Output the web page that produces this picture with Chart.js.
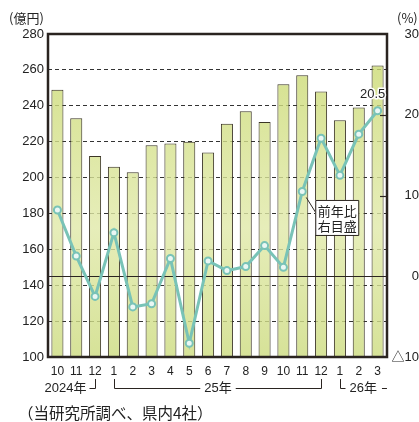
<!DOCTYPE html>
<html><head><meta charset="utf-8">
<script src="https://cdn.jsdelivr.net/npm/chart.js@4.4.1/dist/chart.umd.min.js"></script>
<style>html,body{margin:0;padding:0;background:#fff;}#wrap{position:relative;width:419px;height:422px;}</style>
</head><body><div id="wrap"><canvas id="c"></canvas></div>
<script>
const months = ['10','11','12','1','2','3','4','5','6','7','8','9','10','11','12','1','2','3'];
const sales = [249, 233, 212, 206, 203, 218, 219, 220, 214, 230, 237, 231, 252, 257, 248, 232, 239, 262.5];
const yoy = [8.2, 2.5, -2.5, 5.4, -3.8, -3.4, 2.2, -8.3, 1.9, 0.7, 1.2, 3.8, 1.1, 10.5, 17.1, 12.5, 17.6, 20.5];
const yearGroups = ['2024年', '25年', '26年'];
const groupStart = [0, 3, 15];
const groupEnd = [2, 14, 17];
const leftUnit = '(億円)';
const rightUnit = '(%)';
const noteText = '（当研究所調べ、県内4社）';
const calloutLines = ['前年比', '右目盛'];

const INK = '#2a2420';
const TEAL = '#79c3b7';
const FONT = "'Liberation Sans','Noto Sans CJK JP',sans-serif";
const NARROW = "'Liberation Sans Narrow','Liberation Sans','Noto Sans CJK JP',sans-serif";
const CJK = "'Noto Sans CJK JP',sans-serif";

function barFill(ctx) {
  const ch = ctx.chart; const a = ch.chartArea;
  if (!a) return 'rgba(206,220,130,0.8)';
  const g = ch.ctx.createLinearGradient(0, a.top, 0, a.bottom);
  g.addColorStop(0, 'rgba(199,215,105,0.8)');
  g.addColorStop(0.6, 'rgba(224,233,168,0.8)');
  g.addColorStop(1, 'rgba(204,219,126,0.8)');
  return g;
}

const extras = {
  id: 'extras',
  beforeDatasetDraw(chart, args) {
    if (args.index !== 1) return;
    const c = chart.ctx, a = chart.chartArea, y1 = chart.scales.y1;
    const y0 = Math.round(y1.getPixelForValue(0)) + 0.5;
    c.save(); c.strokeStyle = INK; c.lineWidth = 1.2;
    c.beginPath(); c.moveTo(a.left, y0); c.lineTo(a.right, y0); c.stroke();
    c.restore();
  },
  afterDatasetsDraw(chart) {
    const c = chart.ctx, a = chart.chartArea, x = chart.scales.x, y1 = chart.scales.y1;
    c.save();
    c.strokeStyle = INK; c.lineWidth = 2.5;
    c.strokeRect(a.left, a.top, a.right - a.left, a.bottom - a.top);
    c.lineWidth = 1.2;
    [10, 20].forEach(v => {
      const yy = Math.round(y1.getPixelForValue(v)) + 0.5;
      c.beginPath(); c.moveTo(a.right - 7, yy); c.lineTo(a.right, yy); c.stroke();
    });
    const meta = chart.getDatasetMeta(1);
    const last = meta.data[meta.data.length - 1];
    c.font = '13px ' + FONT; c.textAlign = 'center'; c.textBaseline = 'middle';
    c.lineWidth = 3; c.strokeStyle = '#fff'; c.lineJoin = 'round';
    const lbl = String(yoy[yoy.length - 1]);
    c.strokeText(lbl, last.x - 5, last.y - 16);
    c.fillStyle = '#222'; c.fillText(lbl, last.x - 5, last.y - 16);
    const p = meta.data[13];
    const bx = p.x + 13, by = p.y + 8.5, bw = 43, bh = 35;
    c.strokeStyle = INK; c.lineWidth = 1;
    c.beginPath(); c.moveTo(p.x + 4, p.y + 6); c.lineTo(bx + 1, p.y + 22); c.stroke();
    c.fillStyle = '#fff'; c.fillRect(bx, by, bw, bh);
    c.strokeRect(bx + 0.5, by + 0.5, bw, bh);
    c.fillStyle = '#222'; c.font = '13px ' + CJK;
    c.fillText(calloutLines[0], bx + bw / 2 + 0.5, by + 11.5);
    c.fillText(calloutLines[1], bx + bw / 2 + 0.5, by + 26.5);
    c.textAlign = 'left'; c.font = '13px ' + CJK; c.fillStyle = '#222';
    c.fillText(leftUnit, 9, 18);
    c.fillText(rightUnit, 397, 18);
    const gy = 388.5, gTop = 379;
    c.strokeStyle = INK; c.lineWidth = 1; c.font = '13px ' + FONT; c.fillStyle = '#222';
    let xe = Math.round(x.getPixelForValue(groupEnd[0])) + 0.5;
    c.beginPath(); c.moveTo(xe - 6, gy); c.lineTo(xe, gy); c.lineTo(xe, gTop); c.stroke();
    c.textAlign = 'right'; c.fillText(yearGroups[0], xe - 9, gy);
    let xs = Math.round(x.getPixelForValue(groupStart[1])) + 0.5;
    xe = Math.round(x.getPixelForValue(groupEnd[1])) + 0.5;
    const mid = (xs + xe) / 2;
    const tw = c.measureText(yearGroups[1]).width;
    c.textAlign = 'center'; c.fillText(yearGroups[1], mid, gy);
    c.beginPath(); c.moveTo(xs, gTop); c.lineTo(xs, gy); c.lineTo(mid - tw / 2 - 4, gy);
    c.moveTo(mid + tw / 2 + 4, gy); c.lineTo(xe, gy); c.lineTo(xe, gTop); c.stroke();
    xs = Math.round(x.getPixelForValue(groupStart[2])) + 0.5;
    c.beginPath(); c.moveTo(xs, gTop); c.lineTo(xs, gy); c.lineTo(xs + 5, gy); c.stroke();
    c.textAlign = 'left'; c.fillText(yearGroups[2], xs + 9, gy);
    const tw2 = c.measureText(yearGroups[2]).width;
    c.beginPath(); c.moveTo(xs + 9 + tw2 + 5, gy); c.lineTo(xs + 9 + tw2 + 10, gy); c.stroke();
    c.font = '15.5px ' + CJK; c.textAlign = 'left';
    c.fillText(noteText, 18, 413);
    c.restore();
  }
};

new Chart(document.getElementById('c'), {
  data: {
    labels: months,
    datasets: [
      { type: 'bar', data: sales, yAxisID: 'y', order: 2,
        backgroundColor: barFill, borderColor: '#3b3526', borderWidth: 1, borderSkipped: 'bottom',
        barPercentage: 0.64, categoryPercentage: 1 },
      { type: 'line', data: yoy, yAxisID: 'y1', order: 1,
        borderColor: TEAL, borderWidth: 3, tension: 0,
        pointRadius: 3.5, pointBorderWidth: 2, pointBackgroundColor: '#eaf7f4', pointBorderColor: TEAL }
    ]
  },
  options: {
    responsive: true, maintainAspectRatio: false, animation: false,
    layout: { padding: { top: 34, left: 0, right: 0, bottom: 0 } },
    plugins: { legend: { display: false }, tooltip: { enabled: false } },
    scales: {
      x: {
        grid: { display: false, drawTicks: false }, border: { display: false },
        ticks: { color: '#222', font: { family: NARROW, size: 12 }, padding: 7, maxRotation: 0, autoSkip: false },
        afterFit(s) { s.height = 65; }
      },
      y: {
        position: 'left', min: 100, max: 280,
        ticks: { stepSize: 20, color: '#222', font: { family: FONT, size: 13 }, padding: 4 },
        grid: { drawTicks: false, lineWidth: 1,
          color: (ctx) => (ctx.tick && (ctx.tick.value === 100 || ctx.tick.value === 280)) ? 'rgba(0,0,0,0)' : '#333' },
        border: { display: false, dash: [4, 3] },
        afterFit(s) { s.width = 48; }
      },
      y1: {
        position: 'right', min: -10, max: 30,
        ticks: { stepSize: 10, color: '#222', font: { family: FONT, size: 13 }, padding: 6, crossAlign: 'far',
          callback: (v) => v < 0 ? '△' + (-v) : String(v) },
        grid: { display: false, drawTicks: false },
        border: { display: false },
        afterFit(s) { s.width = 32; }
      }
    }
  },
  plugins: [extras]
});
</script>
</body></html>
